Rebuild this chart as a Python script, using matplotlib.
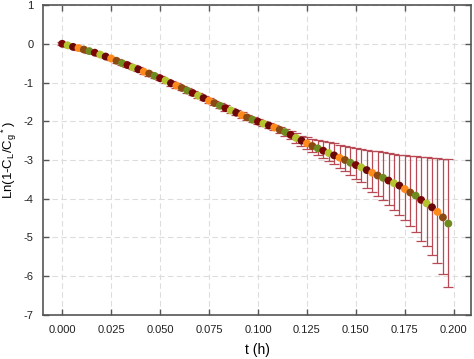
import matplotlib
matplotlib.use("Agg")
import matplotlib.pyplot as plt
import numpy as np

plt.rcParams['font.family'] = ['Liberation Sans', 'DejaVu Sans']
plt.rcParams['mathtext.fontset'] = 'custom'
plt.rcParams['mathtext.rm'] = 'Liberation Sans'
plt.rcParams['mathtext.it'] = 'Liberation Sans'
plt.rcParams['mathtext.default'] = 'regular'

# time step of 10 s, expressed in hours
t_hours = [i * 10 / 3600 for i in range(72)]

ln_ratio = [
    0.00, -0.04, -0.08, -0.11, -0.15, -0.19, -0.23, -0.28, -0.33, -0.38,
    -0.44, -0.50, -0.55, -0.61, -0.66, -0.72, -0.77, -0.83, -0.89, -0.95,
    -1.02, -1.08, -1.14, -1.21, -1.27, -1.34, -1.40, -1.47, -1.53, -1.60,
    -1.66, -1.72, -1.78, -1.84, -1.90, -1.96, -2.01, -2.06, -2.11, -2.16,
    -2.22, -2.28, -2.35, -2.43, -2.50, -2.57, -2.64, -2.70, -2.76, -2.82,
    -2.88, -2.94, -3.00, -3.07, -3.13, -3.19, -3.26, -3.33, -3.40, -3.46,
    -3.53, -3.60, -3.66, -3.75, -3.84, -3.92, -4.03, -4.12, -4.22, -4.34,
    -4.48, -4.64,
]

err_plus = [
    0.04, 0.04, 0.04, 0.04, 0.04, 0.04, 0.04, 0.04, 0.04, 0.04,
    0.05, 0.05, 0.05, 0.05, 0.05, 0.05, 0.05, 0.05, 0.05, 0.05,
    0.06, 0.06, 0.06, 0.06, 0.06, 0.06, 0.06, 0.06, 0.06, 0.06,
    0.07, 0.07, 0.07, 0.07, 0.07, 0.07, 0.07, 0.07, 0.07, 0.07,
    0.08, 0.09, 0.11, 0.13, 0.13, 0.16, 0.19, 0.22, 0.25, 0.28,
    0.31, 0.34, 0.37, 0.41, 0.44, 0.47, 0.52, 0.57, 0.62, 0.66,
    0.71, 0.76, 0.80, 0.88, 0.95, 1.02, 1.11, 1.19, 1.27, 1.38,
    1.51, 1.66,
]

err_minus = [
    0.04, 0.04, 0.04, 0.04, 0.04, 0.04, 0.04, 0.04, 0.04, 0.04,
    0.05, 0.05, 0.05, 0.05, 0.05, 0.05, 0.05, 0.05, 0.05, 0.05,
    0.06, 0.06, 0.06, 0.06, 0.06, 0.06, 0.06, 0.06, 0.06, 0.06,
    0.07, 0.07, 0.07, 0.07, 0.07, 0.07, 0.07, 0.07, 0.07, 0.07,
    0.08, 0.09, 0.10, 0.12, 0.13, 0.14, 0.15, 0.17, 0.19, 0.21,
    0.22, 0.26, 0.29, 0.31, 0.35, 0.39, 0.46, 0.50, 0.53, 0.57,
    0.63, 0.69, 0.75, 0.80, 0.87, 0.94, 1.05, 1.11, 1.23, 1.31,
    1.46, 1.65,
]

marker_colors = ['#7a0606', '#b4c42e', '#680808', '#ff8a1c', '#8a4a12', '#6f8a1e']

x_ticks = [0.000, 0.025, 0.050, 0.075, 0.100, 0.125, 0.150, 0.175, 0.200]
y_ticks = [1, 0, -1, -2, -3, -4, -5, -6, -7]

fig = plt.figure(figsize=(4.74, 3.59), dpi=100)
ax = fig.add_axes([0.0907, 0.1226, 0.9030, 0.8634])

ax.errorbar(t_hours, ln_ratio, yerr=[err_minus, err_plus], fmt='none',
            ecolor='#b84a55', elinewidth=0.9, capsize=3.3, capthick=0.9, zorder=2)

cols = [marker_colors[i % len(marker_colors)] for i in range(len(t_hours))]
ax.scatter(t_hours, ln_ratio, s=32, c=cols, edgecolors='none', zorder=3)

ax.set_xlim(-0.0098, 0.2088)
ax.set_ylim(-7, 1)
ax.set_xticks(x_ticks)
ax.set_xticklabels([f'{v:.3f}' for v in x_ticks])
ax.set_yticks(y_ticks)
ax.set_yticklabels([str(v) for v in y_ticks])

ax.grid(True, color='#dddddd', linestyle=(0, (5, 3)), linewidth=0.8, zorder=0)
ax.set_axisbelow(True)

ax.tick_params(direction='in', length=4, width=1, color='#555555',
               top=True, right=True, labelsize=8, labelcolor='#222222', pad=7)
for s in ax.spines.values():
    s.set_color('#555555')
    s.set_linewidth(1.2)

ax.set_xlabel('t (h)', fontsize=10, labelpad=6)
ax.set_ylabel('Ln(1-C$_L$/C$_g$$^*$)', fontsize=9.5)
ax.yaxis.set_label_coords(-0.056, 0.5)

fig.savefig('out.png', dpi=100)
